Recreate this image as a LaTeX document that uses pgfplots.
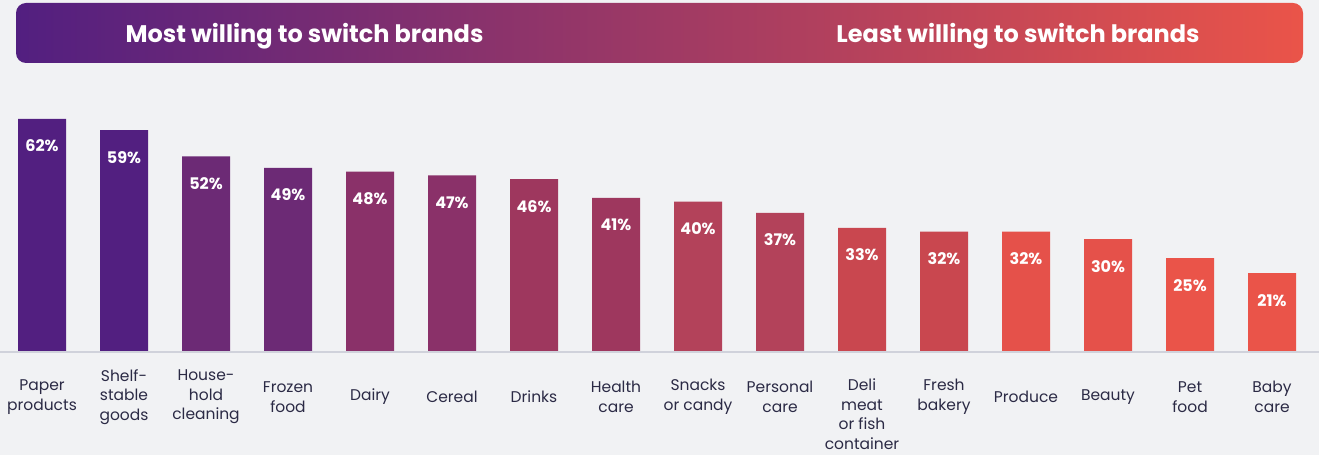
\documentclass[border=0pt]{standalone}
\usepackage{fontspec}
\setmainfont{Poppins}
\usepackage{pgfplots}
\pgfplotsset{compat=1.18}
\definecolor{bg}{HTML}{F1F2F4}
\definecolor{c1}{HTML}{521F80}
\definecolor{c2}{HTML}{6C2A75}
\definecolor{c3}{HTML}{8A3169}
\definecolor{c4}{HTML}{9E375E}
\definecolor{c5}{HTML}{B3425A}
\definecolor{c6}{HTML}{C9474F}
\definecolor{c7}{HTML}{E5514A}
\definecolor{c8}{HTML}{EA5449}
\definecolor{midc}{HTML}{A83C5F}
\definecolor{txt}{HTML}{2B2A45}
\definecolor{axl}{HTML}{D0D2DB}
\begin{document}
\begin{tikzpicture}[x=1pt,y=1pt]
\fill[bg] (0,-103) rectangle (1319,352);
\shade[rounded corners=10pt, left color=c1, middle color=midc, right color=c8] (16,289) rectangle (1303,349);
\node[white, font=\fontsize{24}{28}\selectfont\bfseries] at (304.5,315.5) {Most willing to switch brands};
\node[white, font=\fontsize{24}{28}\selectfont\bfseries] at (1018,315.5) {Least willing to switch brands};
\begin{axis}[at={(0,0)}, anchor=south west, scale only axis,
  width=1319pt, height=263.2pt,
  xmin=-0.5122, xmax=15.5732, ymin=0, ymax=70,
  axis line style={draw=none}, major tick length=0pt, ytick=\empty,
  clip=false,
  xtick={0,1,2,3,4,5,6,7,8,9,11,12,13,14,15},
  xticklabels={{Paper\\products},{Shelf-\\stable\\goods},{House-\\hold\\cleaning},{Frozen\\food},{Dairy},{Cereal},{Drinks},{Health\\care},{Snacks\\or candy},{Personal\\care},{Fresh\\bakery},{Produce},{Beauty},{Pet\\food},{Baby\\care}},
  xticklabel style={anchor=center, align=center, yshift=-45pt, text=txt, font=\fontsize{15.5}{19.5}\selectfont},
  extra x ticks={10},
  extra x tick labels={{Deli\\meat\\or fish\\container}},
  extra x tick style={xticklabel style={yshift=-17pt}},
  nodes near coords={\pgfmathprintnumber[assume math mode=true]{\pgfplotspointmeta}\%},
  every node near coord/.append style={white, anchor=base, yshift=-33pt, font=\fontsize{16}{19}\selectfont\bfseries},
]
\addplot[ybar, bar width=48pt, fill=c1, draw=none] coordinates {(0,62) (1,59)};
\addplot[ybar, bar width=48pt, fill=c2, draw=none] coordinates {(2,52) (3,49)};
\addplot[ybar, bar width=48pt, fill=c3, draw=none] coordinates {(4,48) (5,47)};
\addplot[ybar, bar width=48pt, fill=c4, draw=none] coordinates {(6,46) (7,41)};
\addplot[ybar, bar width=48pt, fill=c5, draw=none] coordinates {(8,40) (9,37)};
\addplot[ybar, bar width=48pt, fill=c6, draw=none] coordinates {(10,33) (11,32)};
\addplot[ybar, bar width=48pt, fill=c7, draw=none] coordinates {(12,32) (13,30)};
\addplot[ybar, bar width=48pt, fill=c8, draw=none] coordinates {(14,25) (15,21)};
\end{axis}
\draw[axl, line width=1.3pt] (0,0) -- (1319,0);
\pgfresetboundingbox
\useasboundingbox (0,-103) rectangle (1319,352);
\end{tikzpicture}
\end{document}
